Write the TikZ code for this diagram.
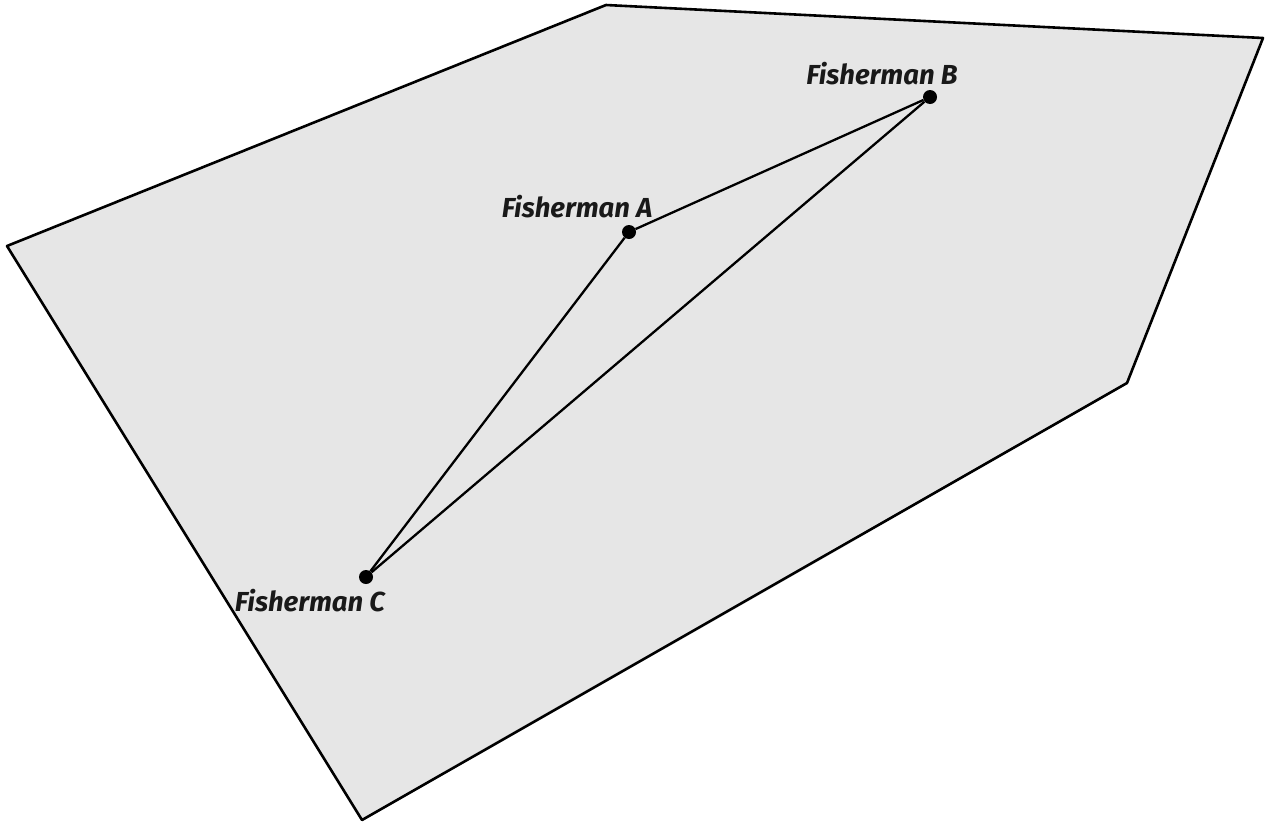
\documentclass[tikz,border=0pt]{standalone}
\usepackage{fontspec}
\setmainfont{Fira Sans}
\definecolor{seagray}{HTML}{E6E6E6}
\begin{document}
\begin{tikzpicture}[x=1pt,y=-1pt,
  region/.style={draw=black,fill=seagray,line width=2.6pt,line join=round},
  link/.style={draw=black,line width=2.3pt},
  fisher/.style={circle,fill=black,inner sep=0pt,minimum size=14pt},
  lbl/.style={font=\fontsize{27.5}{29}\selectfont\bfseries\itshape,text=black!90,inner sep=0pt}]
\useasboundingbox (0,0) rectangle (1268,825);
\path[region] (606,5) -- (1263,38) -- (1127,383) -- (362,820) -- (7,246) -- cycle;
\node[fisher] (A) at (629,232) {};
\node[fisher] (B) at (930,97) {};
\node[fisher] (C) at (366,577) {};
\draw[link] (A) -- (B);
\draw[link] (B) -- (C);
\draw[link] (C) -- (A);
\node[lbl] (la) at (577,207) {Fisherman A};
\node[lbl] (lb) at (882,74) {Fisherman B};
\node[lbl] (lc) at (310,601) {Fisherman C};
\end{tikzpicture}
\end{document}
